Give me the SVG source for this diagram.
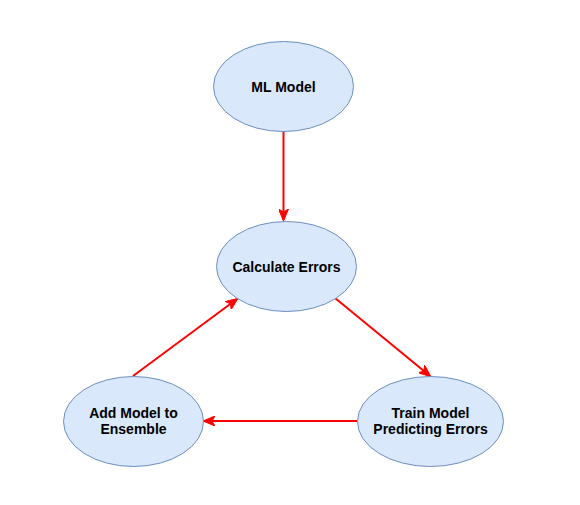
<svg xmlns="http://www.w3.org/2000/svg" width="580" height="505" viewBox="0 0 580 505">
<style>
.node ellipse{fill:#dae8fc;stroke:#6c8ebf;stroke-width:1}
.node text{font-family:"Liberation Sans",Arial,sans-serif;font-weight:bold;font-size:14px;fill:#000;text-anchor:middle}
.edge{stroke:#ff0000;stroke-width:2;fill:none;marker-end:url(#arr)}
</style>
<defs>
<marker id="arr" markerUnits="userSpaceOnUse" viewBox="0 0 12 10" refX="11" refY="5" markerWidth="12" markerHeight="10" orient="auto">
<path d="M0,0 L12,5 L0,10 L3,5 Z" fill="#ff0000" stroke="#ff0000" stroke-width="1"/>
</marker>
</defs>
<rect width="580" height="505" fill="#fff"/>
<g id="connectors">
<line class="edge" x1="283.5" y1="131" x2="283.5" y2="220"/>
<line class="edge" x1="335" y1="298" x2="430" y2="376"/>
<line class="edge" x1="357" y1="421" x2="204" y2="421"/>
<line class="edge" x1="133" y1="376" x2="237" y2="299"/>
</g>
<g id="ml-model" class="node">
<ellipse cx="283.5" cy="86.5" rx="70" ry="45"/>
<text x="283.5" y="91.5">ML Model</text>
</g>
<g id="calculate-errors" class="node">
<ellipse cx="286.5" cy="266.5" rx="70" ry="45"/>
<text x="286.5" y="271.5">Calculate Errors</text>
</g>
<g id="train-model" class="node">
<ellipse cx="430.5" cy="421.5" rx="73" ry="45"/>
<text x="430.5" y="418">Train Model</text>
<text x="430.5" y="434">Predicting Errors</text>
</g>
<g id="add-model" class="node">
<ellipse cx="133.5" cy="421.5" rx="70" ry="45"/>
<text x="133.5" y="418">Add Model to</text>
<text x="133.5" y="434">Ensemble</text>
</g>
</svg>
